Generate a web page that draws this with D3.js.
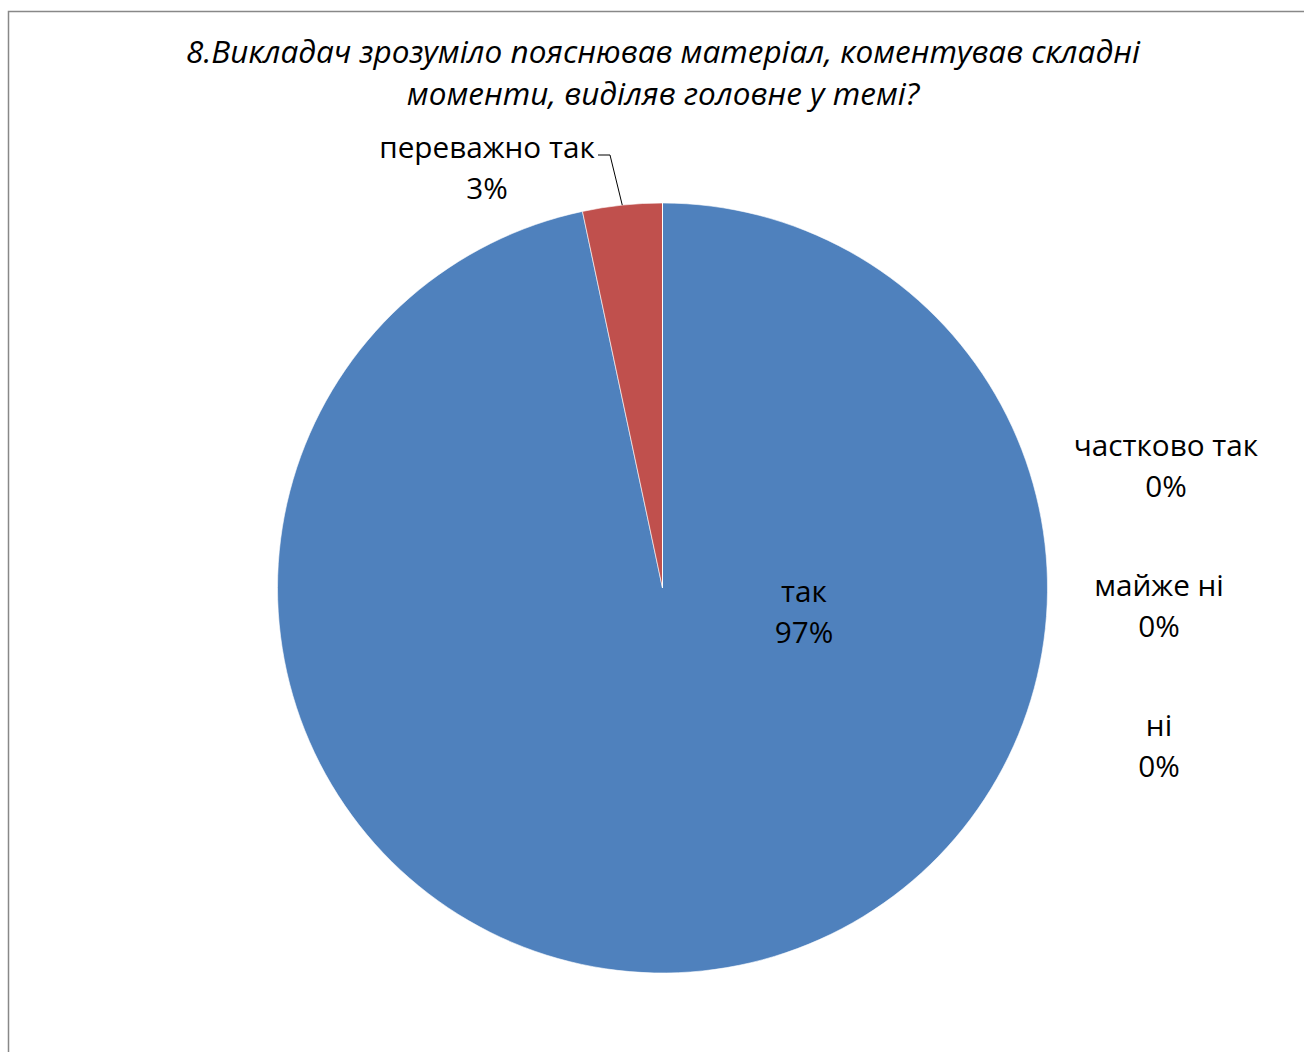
<!DOCTYPE html>
<html>
<head>
<meta charset="utf-8">
<script src="https://cdn.jsdelivr.net/npm/d3@7"></script>
<style>
  body { margin: 0; background: #fff; }
  text { font-family: 'Open Sans', 'Noto Sans', sans-serif; fill: #000; }
</style>
</head>
<body>
<svg id="svg"></svg>
<script>
// data
const categories = ['так', 'переважно так', 'частково так', 'майже ні', 'ні'];
const counts = [29, 1, 0, 0, 0];
const colours = ['#4F81BD', '#C0504D', '#9BBB59', '#8064A2', '#4BACC6'];
const titleLines = ['8.Викладач зрозуміло пояснював матеріал, коментував складні', 'моменти, виділяв головне у темі?'];

const width = 1304;
const height = 1052;
const cx = 662.5, cy = 588, radius = 385;

const svg = d3.select('#svg')
  .attr('width', width)
  .attr('height', height);

// chart frame (runs off the right and bottom of the picture)
svg.append('rect')
  .attr('x', 8.5)
  .attr('y', 11.5)
  .attr('width', 1400)
  .attr('height', 1200)
  .attr('fill', 'none')
  .attr('stroke', '#888')
  .attr('stroke-width', 1.5);

// TITLE
svg.append('text')
  .attr('text-anchor', 'middle')
  .attr('font-style', 'italic')
  .attr('font-size', 31.5)
  .selectAll('tspan')
  .data(titleLines)
  .enter()
  .append('tspan')
  .attr('x', 663)
  .attr('y', (d, i) => 63 + i * 42)
  .text(d => d);

// PIE
const total = d3.sum(counts);
const pie = d3.pie().sort(null).value(d => d)(counts);
const arc = d3.arc().innerRadius(0).outerRadius(radius);

const g = svg.append('g').attr('transform', `translate(${cx}, ${cy})`);

g.selectAll('path')
  .data(pie)
  .enter()
  .append('path')
  .attr('d', arc)
  .attr('fill', (d, i) => colours[i])
  .attr('stroke', '#fff')
  .attr('stroke-width', 0.6);

// LABELS - where Excel put them (best fit)
const labelPos = [[804, 602], [487, 158], [1166, 456], [1159, 596], [1159, 736]];

const labels = svg.append('g')
  .attr('text-anchor', 'middle')
  .attr('font-size', 29.7);

categories.forEach((c, i) => {
  const pct = Math.round(counts[i] / total * 100) + '%';
  const t = labels.append('text');
  t.append('tspan').attr('x', labelPos[i][0]).attr('y', labelPos[i][1]).text(c);
  t.append('tspan').attr('x', labelPos[i][0]).attr('y', labelPos[i][1] + 41).text(pct);
});

// leader line for 'переважно так'
const mid = (pie[1].startAngle + pie[1].endAngle) / 2;
const edge = [cx + Math.sin(mid) * radius, cy - Math.cos(mid) * radius];
svg.append('polyline')
  .attr('points', [[598, 155], [610, 155], edge].map(p => p.join(',')).join(' '))
  .attr('fill', 'none')
  .attr('stroke', '#000')
  .attr('stroke-width', 1);
</script>
</body>
</html>
